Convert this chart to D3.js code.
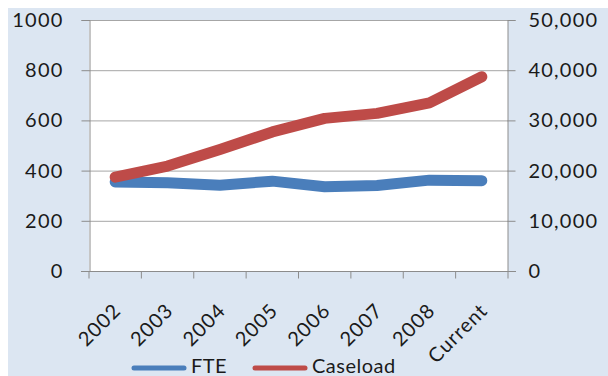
<!DOCTYPE html>
<html>
<head>
<meta charset="utf-8">
<script src="https://cdn.jsdelivr.net/npm/d3@7"></script>
<style>
  html, body { margin: 0; padding: 0; background: #fff; }
  svg { display: block; }
  text { font-family: Lato, "Open Sans", sans-serif; fill: #1a1a1a; }
</style>
</head>
<body>
<svg id="chart" width="608" height="376"></svg>
<script>
// Staffing (FTE, left axis) against caseload (right axis), by year
const categories = ["2002", "2003", "2004", "2005", "2006", "2007", "2008", "Current"];
const fte = [355, 352, 342, 358, 336, 341, 362, 360];
const caseload = [18700, 20900, 24200, 27700, 30400, 31400, 33500, 38700];
const leftTicks = [0, 200, 400, 600, 800, 1000];
const rightTicks = [0, 10000, 20000, 30000, 40000, 50000];

const W = 608, H = 376;
const plot = { left: 89, right: 508, top: 20, bottom: 271 };
const blue = "#4A7EBB", red = "#BE4B48";

const svg = d3.select("#chart");

// chart background panel
svg.append("rect").attr("x", 8).attr("y", 8).attr("width", W - 8).attr("height", H - 8)
  .attr("fill", "#DCE6F2");
svg.append("rect").attr("x", plot.left).attr("y", plot.top)
  .attr("width", plot.right - plot.left).attr("height", plot.bottom - plot.top)
  .attr("fill", "#fff");

const x = d3.scaleBand().domain(categories).range([plot.left, plot.right]);
const yL = d3.scaleLinear().domain([0, 1000]).range([plot.bottom, plot.top]);
const yR = d3.scaleLinear().domain([0, 50000]).range([plot.bottom, plot.top]);

// horizontal gridlines
svg.append("g").selectAll("line").data(leftTicks.filter(d => d > 0)).join("line")
  .attr("x1", plot.left).attr("x2", plot.right)
  .attr("y1", d => yL(d) + 0.5).attr("y2", d => yL(d) + 0.5)
  .attr("stroke", "#a6a6a6").attr("stroke-width", 1);

// left axis
const gl = svg.append("g").attr("transform", `translate(${plot.left + 0.5},0)`)
  .call(d3.axisLeft(yL).tickValues(leftTicks).tickFormat(d3.format("d")).tickSizeOuter(0).tickSize(8).tickPadding(18));
// right axis
const gr = svg.append("g").attr("transform", `translate(${plot.right - 0.5},0)`)
  .call(d3.axisRight(yR).tickValues(rightTicks).tickFormat(d3.format(",")).tickSizeOuter(0).tickSize(8).tickPadding(13));
// bottom axis with tick marks at band edges
const gb = svg.append("g").attr("transform", `translate(0,${plot.bottom + 0.5})`)
  .call(d3.axisBottom(x).tickSize(0).tickSizeOuter(0).tickFormat(""));
gb.selectAll(".edge").data(categories.concat(["_end"])).join("line").attr("class", "edge")
  .attr("x1", (d, i) => plot.left + i * x.step()).attr("x2", (d, i) => plot.left + i * x.step())
  .attr("y1", 0).attr("y2", 7).attr("stroke", "#8c8c8c");
gb.select(".domain").attr("d", `M${plot.left - 8},0H${plot.right + 8}`);

[gl, gr, gb].forEach(g => {
  g.selectAll(".domain, .tick line").attr("stroke", "#8c8c8c").attr("stroke-width", 1);
  g.selectAll("text").attr("font-size", 20).attr("fill", "#1a1a1a")
    .style("font-family", "Lato, 'Open Sans', sans-serif");
});
gl.selectAll(".tick text").attr("letter-spacing", 1.2);
gr.selectAll(".tick text").attr("letter-spacing", 1.2);

// rotated category labels
svg.append("g").selectAll("text").data(categories).join("text")
  .attr("transform", d => `translate(${x(d) + x.bandwidth() / 2 - 3},${plot.bottom + 31}) rotate(-45)`)
  .attr("text-anchor", "end").attr("dy", "0.7em")
  .attr("font-size", 20).attr("letter-spacing", 1).text(d => d);

// series lines
const lineL = d3.line().x((d, i) => x(categories[i]) + x.bandwidth() / 2).y(d => yL(d));
const lineR = d3.line().x((d, i) => x(categories[i]) + x.bandwidth() / 2).y(d => yR(d));
svg.append("path").datum(fte).attr("d", lineL).attr("fill", "none")
  .attr("stroke", blue).attr("stroke-width", 11).attr("stroke-linecap", "round").attr("stroke-linejoin", "round");
svg.append("path").datum(caseload).attr("d", lineR).attr("fill", "none")
  .attr("stroke", red).attr("stroke-width", 11).attr("stroke-linecap", "round").attr("stroke-linejoin", "round");

// legend
const legend = [{ name: "FTE", color: blue, x: 134 }, { name: "Caseload", color: red, x: 255 }];
const lg = svg.append("g").selectAll("g").data(legend).join("g")
  .attr("transform", d => `translate(${d.x},368)`);
lg.append("line").attr("x1", 0).attr("x2", 50).attr("y1", 0).attr("y2", 0)
  .attr("stroke", d => d.color).attr("stroke-width", 5).attr("stroke-linecap", "round");
lg.append("text").attr("x", 57).attr("y", 5).attr("font-size", 20).attr("letter-spacing", 0.5).text(d => d.name);
</script>
</body>
</html>
